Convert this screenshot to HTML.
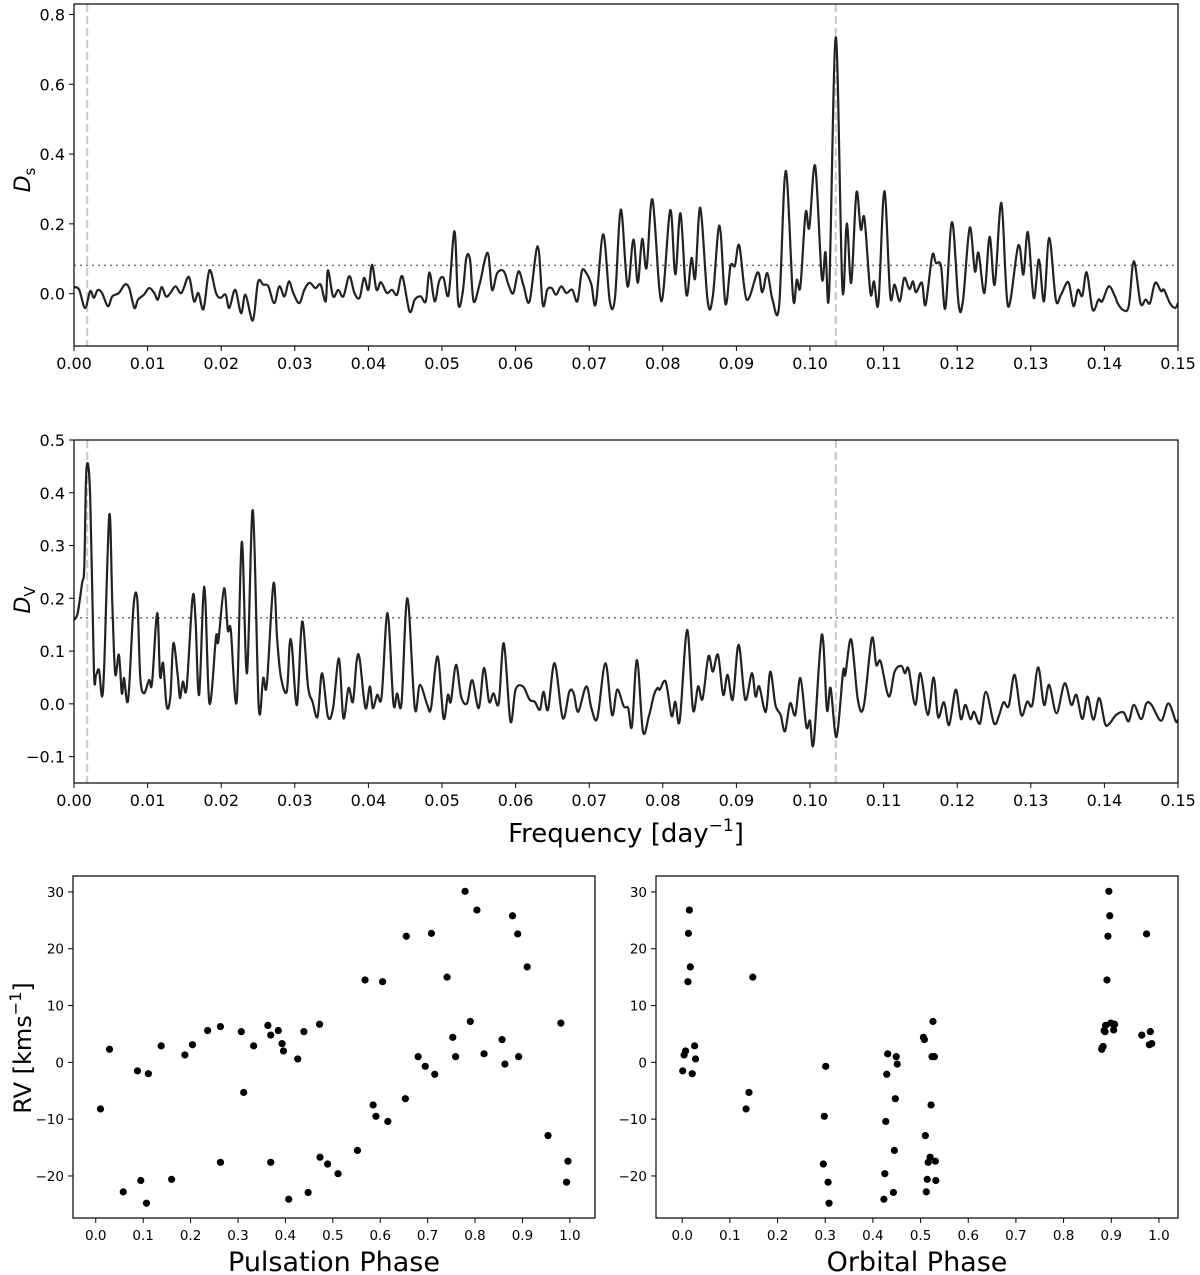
<!DOCTYPE html>
<html><head><meta charset="utf-8"><style>
html,body{margin:0;padding:0;background:#fff}
svg{display:block}
text{font-family:"DejaVu Sans","Liberation Sans",sans-serif;fill:#000}
</style></head><body>
<svg id="fig" width="1200" height="1275" viewBox="0 0 1200 1275" xmlns="http://www.w3.org/2000/svg"></svg>
<script>
// ---------- Data ----------
const dsFreq=[0,0.0007,0.0015,0.0022,0.0027,0.0032,0.0038,0.0046,0.0052,0.0061,0.0069,0.0075,0.0082,0.0087,0.0095,0.0102,0.0109,0.0114,0.0119,0.0125,0.0131,0.0138,0.0146,0.0156,0.0163,0.0169,0.0176,0.0184,0.0193,0.0199,0.0206,0.0211,0.0219,0.0227,0.0233,0.0243,0.0250,0.0257,0.0264,0.0272,0.0279,0.0286,0.0292,0.0298,0.0306,0.0313,0.0320,0.0328,0.0335,0.0342,0.0345,0.0352,0.0359,0.0366,0.0374,0.0381,0.0388,0.0394,0.0400,0.0405,0.0411,0.0417,0.0425,0.0432,0.0439,0.0446,0.0456,0.0463,0.0471,0.0478,0.0483,0.0490,0.0496,0.0502,0.0509,0.0517,0.0522,0.0528,0.0533,0.0538,0.0543,0.0551,0.0562,0.0568,0.0575,0.0584,0.0591,0.0597,0.0604,0.0611,0.0619,0.0630,0.0637,0.0643,0.0649,0.0655,0.0662,0.0669,0.0677,0.0684,0.0690,0.0696,0.0703,0.0709,0.0719,0.0728,0.0735,0.0743,0.0752,0.0760,0.0766,0.0772,0.0778,0.0786,0.0798,0.0810,0.0817,0.0824,0.0832,0.0839,0.0844,0.0851,0.0861,0.0868,0.0877,0.0885,0.0892,0.0898,0.0904,0.0914,0.0929,0.0935,0.0942,0.0949,0.0958,0.0967,0.0977,0.0982,0.0987,0.0994,0.0999,0.1007,0.1016,0.1021,0.1026,0.1035,0.1044,0.1050,0.1056,0.1063,0.1069,0.1074,0.1082,0.1087,0.1093,0.1101,0.1109,0.1115,0.1122,0.1128,0.1135,0.1140,0.1144,0.1152,0.1157,0.1166,0.1171,0.1178,0.1184,0.1193,0.1202,0.1208,0.1217,0.1224,0.1229,0.1237,0.1244,0.1251,0.1260,0.1269,0.1283,0.1290,0.1296,0.1304,0.1311,0.1318,0.1325,0.1334,0.1341,0.1351,0.1358,0.1364,0.1370,0.1376,0.1384,0.1392,0.1397,0.1406,0.1414,0.1418,0.1425,0.1433,0.1440,0.1449,0.1456,0.1462,0.1469,0.1477,0.1481,0.1489,0.1496,0.1500];
const dsVal=[0.019,0.011,-0.041,0.007,-0.012,0.010,0.002,-0.036,-0.008,0.002,0.026,0.016,-0.041,-0.017,-0.003,0.016,0.002,-0.017,0.019,-0.008,0.002,0.021,0.002,0.048,-0.022,0.002,-0.044,0.067,0.002,-0.012,-0.003,-0.041,0.011,-0.056,-0.003,-0.077,0.033,0.026,0.021,-0.027,0.021,-0.008,0.035,0.002,-0.027,0.011,0.031,0.016,0.026,-0.022,0.067,-0.008,0.011,-0.008,0.050,0.002,-0.012,0.045,0.011,0.083,0.011,0.033,0.002,0.011,-0.003,0.050,-0.051,-0.017,-0.008,-0.022,0.061,-0.022,0.035,0.045,-0.003,0.179,-0.027,0.002,0.102,0.098,-0.022,0.026,0.117,0.011,0.059,0.064,0.021,0.002,0.064,0.021,-0.022,0.136,-0.032,0.011,0.016,-0.003,0.021,0.002,0.011,-0.022,0.064,0.059,0.026,-0.029,0.170,-0.022,-0.012,0.241,0.021,0.155,0.031,0.157,0.074,0.270,-0.022,0.239,0.055,0.230,-0.003,0.102,0.045,0.246,-0.022,-0.008,0.195,-0.029,0.079,0.080,0.138,-0.017,0.061,0.004,0.059,-0.017,-0.036,0.352,-0.012,0.040,0.021,0.232,0.189,0.366,0.045,0.119,0.002,0.735,0.016,0.201,0.031,0.289,0.184,0.215,0.002,0.035,-0.027,0.294,-0.006,0.026,-0.022,0.045,0.013,0.035,0.004,0.031,-0.032,0.109,0.088,0.079,-0.041,0.205,-0.032,-0.017,0.189,0.064,0.117,0.002,0.163,0.026,0.260,-0.036,0.138,0.055,0.176,-0.012,0.098,-0.022,0.160,-0.017,-0.003,0.033,-0.036,0.011,-0.006,0.061,-0.046,-0.017,-0.022,0.021,-0.006,-0.027,-0.046,-0.036,0.093,-0.027,-0.017,-0.027,0.031,0.007,0.011,-0.027,-0.041,-0.027];
const dvFreq=[0,0.0005,0.0011,0.0014,0.0017,0.0022,0.0027,0.0030,0.0034,0.0038,0.0041,0.0048,0.0052,0.0056,0.0061,0.0065,0.0068,0.0072,0.0075,0.0081,0.0086,0.0090,0.0095,0.0102,0.0106,0.0113,0.0117,0.0121,0.0126,0.0131,0.0135,0.0141,0.0144,0.0148,0.0153,0.0161,0.0165,0.0170,0.0177,0.0184,0.0193,0.0196,0.0204,0.0209,0.0213,0.0221,0.0228,0.0235,0.0243,0.0251,0.0257,0.0262,0.0271,0.0276,0.0281,0.0289,0.0293,0.0296,0.0303,0.0310,0.0318,0.0324,0.0331,0.0337,0.0345,0.0352,0.0360,0.0366,0.0373,0.0379,0.0384,0.0388,0.0396,0.0402,0.0406,0.0412,0.0418,0.0426,0.0434,0.0439,0.0445,0.0453,0.0463,0.0470,0.0480,0.0485,0.0494,0.0502,0.0508,0.0512,0.0519,0.0526,0.0534,0.0541,0.0550,0.0557,0.0564,0.0570,0.0577,0.0584,0.0593,0.0600,0.0610,0.0619,0.0626,0.0633,0.0638,0.0644,0.0653,0.0664,0.0673,0.0679,0.0685,0.0696,0.0703,0.0711,0.0722,0.0731,0.0738,0.0747,0.0753,0.0758,0.0765,0.0773,0.0781,0.0788,0.0793,0.0796,0.0804,0.0812,0.0817,0.0823,0.0833,0.0841,0.0848,0.0854,0.0862,0.0868,0.0875,0.0882,0.0888,0.0895,0.0903,0.0912,0.0921,0.0926,0.0931,0.0940,0.0946,0.0953,0.0960,0.0966,0.0973,0.0980,0.0987,0.0995,0.1000,0.1005,0.1016,0.1023,0.1028,0.1036,0.1045,0.1048,0.1056,0.1065,0.1073,0.1084,0.1090,0.1096,0.1107,0.1115,0.1124,0.1129,0.1134,0.1143,0.1150,0.1160,0.1168,0.1174,0.1182,0.1189,0.1198,0.1205,0.1211,0.1218,0.1223,0.1231,0.1239,0.1250,0.1257,0.1263,0.1270,0.1278,0.1287,0.1295,0.1302,0.1310,0.1318,0.1325,0.1335,0.1346,0.1355,0.1362,0.1370,0.1377,0.1385,0.1393,0.1401,0.1407,0.1416,0.1426,0.1433,0.1440,0.1450,0.1457,0.1464,0.1477,0.1487,0.1497,0.1500];
const dvVal=[0.159,0.172,0.229,0.260,0.446,0.393,0.064,0.055,0.064,0.014,0.071,0.358,0.191,0.057,0.093,0.020,0.049,0.004,0.033,0.187,0.197,0.052,0.020,0.045,0.039,0.172,0.052,0.077,-0.005,0.014,0.115,0.052,0.011,0.042,0.030,0.200,0.165,0.017,0.222,0.001,0.127,0.118,0.219,0.140,0.140,0.004,0.307,0.058,0.367,-0.005,0.049,0.036,0.228,0.124,0.052,0.023,0.112,0.109,-0.002,0.156,0.033,0.004,-0.024,0.058,-0.024,-0.008,0.086,-0.027,0.030,0.004,0.080,0.086,-0.008,0.033,-0.008,0.017,0.014,0.172,0.001,0.020,0.001,0.200,-0.008,0.036,-0.002,-0.008,0.090,-0.027,0.017,0.004,0.074,0.014,0.001,0.045,-0.008,0.068,0.004,0.020,0.001,0.115,-0.033,0.027,0.033,0.008,0.004,-0.011,0.023,-0.011,0.077,-0.027,0.023,0.020,-0.015,0.033,-0.008,-0.027,0.077,-0.021,0.027,-0.005,-0.008,-0.043,0.083,-0.052,-0.024,0.017,0.030,0.027,0.042,-0.023,0.004,-0.032,0.140,-0.011,0.033,0.009,0.090,0.061,0.093,0.017,0.055,0.008,0.112,0.008,0.058,0.014,0.033,-0.015,0.061,-0.002,-0.021,-0.052,0.001,-0.021,0.049,-0.043,-0.032,-0.074,0.131,-0.011,0.030,-0.063,0.061,0.055,0.122,0.008,-0.005,0.124,0.074,0.080,0.014,0.061,0.072,0.058,0.066,-0.002,0.058,-0.021,0.050,-0.025,0.003,-0.040,0.027,-0.029,-0.002,-0.029,-0.015,-0.037,0.023,-0.037,-0.021,0.003,-0.004,0.055,-0.021,0.004,-0.002,0.069,-0.002,0.036,-0.018,0.039,-0.002,0.017,-0.029,0.014,-0.030,0.011,-0.038,-0.037,-0.021,-0.016,-0.033,-0.002,-0.029,0.001,-0.002,-0.032,0.001,-0.033,-0.030];
const dsThreshold=0.081;
const dvThreshold=0.163;
const markFreqs=[0.0018,0.1035];
const freqTicks=[0,0.01,0.02,0.03,0.04,0.05,0.06,0.07,0.08,0.09,0.10,0.11,0.12,0.13,0.14,0.15];
const dsTicks=[0,0.2,0.4,0.6,0.8];
const dvTicks=[-0.1,0,0.1,0.2,0.3,0.4,0.5];
const pulsPhase=[0.010,0.029,0.058,0.088,0.095,0.107,0.111,0.138,0.160,0.188,0.204,0.236,0.263,0.263,0.307,0.312,0.333,0.363,0.369,0.369,0.385,0.393,0.396,0.407,0.426,0.439,0.448,0.472,0.473,0.489,0.511,0.552,0.568,0.585,0.591,0.605,0.616,0.653,0.655,0.680,0.695,0.708,0.715,0.741,0.753,0.759,0.779,0.790,0.804,0.819,0.857,0.863,0.879,0.890,0.892,0.910,0.954,0.981,0.993,0.996];
const pulsRV=[-8.2,2.3,-22.8,-1.5,-20.8,-24.8,-2.0,2.9,-20.6,1.3,3.1,5.6,6.3,-17.6,5.4,-5.3,2.9,6.5,4.8,-17.6,5.6,3.3,2.0,-24.1,0.6,5.4,-22.9,6.7,-16.7,-17.9,-19.6,-15.5,14.5,-7.5,-9.5,14.2,-10.4,-6.4,22.2,1.0,-0.7,22.7,-2.1,15.0,4.4,1.0,30.1,7.2,26.8,1.5,4.0,-0.3,25.8,22.6,1.0,16.8,-12.9,6.9,-21.1,-17.4];
const orbPhase=[0.001,0.004,0.007,0.012,0.013,0.015,0.017,0.021,0.026,0.028,0.134,0.140,0.148,0.296,0.298,0.301,0.306,0.308,0.423,0.425,0.427,0.429,0.431,0.443,0.445,0.447,0.449,0.451,0.506,0.508,0.510,0.512,0.514,0.516,0.520,0.522,0.524,0.526,0.529,0.531,0.532,0.880,0.883,0.885,0.888,0.891,0.893,0.895,0.897,0.899,0.905,0.907,0.964,0.974,0.980,0.982,0.985,0.887,0.902,0.881];
const orbRV=[-1.5,1.3,2.0,14.2,22.7,26.8,16.8,-2.0,2.9,0.6,-8.2,-5.3,15.0,-17.9,-9.5,-0.7,-21.1,-24.8,-24.1,-19.6,-10.4,-2.1,1.5,-22.9,-15.5,-6.4,1.0,-0.3,4.4,4.0,-12.9,-22.8,-20.6,-17.6,-16.7,-7.5,1.0,7.2,1.0,-17.4,-20.8,2.3,2.8,5.6,6.5,14.5,22.2,30.1,25.8,6.9,5.7,6.7,4.8,22.6,3.1,5.4,3.3,5.4,6.8,2.6];
const phaseTicks=[0,0.1,0.2,0.3,0.4,0.5,0.6,0.7,0.8,0.9,1.0];
const rvTicks=[-20,-10,0,10,20,30];

// ---------- Drawing ----------
const NS='http://www.w3.org/2000/svg';
const svg=document.getElementById('fig');
function mk(tag,attrs,parent){const e=document.createElementNS(NS,tag);for(const k in attrs)e.setAttribute(k,attrs[k]);(parent||svg).appendChild(e);return e;}
function scale(d0,d1,r0,r1){return v=>r0+(v-d0)*(r1-r0)/(d1-d0);}
function fmt(v,d){let s=v.toFixed(d);if(v<0)s='\u2212'+s.slice(1);return s;}
function smoothPath(P){
  let d='M'+P[0][0].toFixed(1)+','+P[0][1].toFixed(1);
  for(let i=0;i<P.length-1;i++){
    const p0=P[i-1]||P[i],p1=P[i],p2=P[i+1],p3=P[i+2]||P[i+1];
    const c1x=p1[0]+(p2[0]-p0[0])/6,c1y=p1[1]+(p2[1]-p0[1])/6;
    const c2x=p2[0]-(p3[0]-p1[0])/6,c2y=p2[1]-(p3[1]-p1[1])/6;
    d+=' C'+c1x.toFixed(1)+','+c1y.toFixed(1)+' '+c2x.toFixed(1)+','+c2y.toFixed(1)+' '+p2[0].toFixed(1)+','+p2[1].toFixed(1);
  }
  return d;
}

function periodogram(name,box,ylim,freqs,vals,thr,yticks,ydec,fontSize){
  const g=mk('g',{});
  
  
  const xs=scale(0,0.15,box.x0,box.x1), ys=scale(ylim[0],ylim[1],box.y1,box.y0);
  const cp=mk('clipPath',{id:name+'-clip'},g);
  mk('rect',{x:box.x0,y:box.y0,width:box.x1-box.x0,height:box.y1-box.y0},cp);
  markFreqs.forEach(f=>{
    const l=mk('line',{x1:xs(f),x2:xs(f),y1:box.y0,y2:box.y1,stroke:'#c8c8c8','stroke-width':2,'stroke-dasharray':'8,4'},g);
    
    
  });
  const th=mk('line',{x1:box.x0,x2:box.x1,y1:ys(thr),y2:ys(thr),stroke:'#777','stroke-width':1.6,'stroke-dasharray':'2,4'},g);
  
  
  const P=freqs.map((f,i)=>[xs(f),ys(vals[i])]);
  const pl=mk('path',{d:smoothPath(P),fill:'none',stroke:'#222','stroke-width':2.2,'stroke-linejoin':'round','clip-path':'url(#'+name+'-clip)'},g);
  
  
  const fr=mk('rect',{x:box.x0,y:box.y0,width:box.x1-box.x0,height:box.y1-box.y0,fill:'none',stroke:'#000','stroke-width':1.2},g);
  
  
  freqTicks.forEach(t=>{
    const x=xs(t);
    mk('line',{x1:x,x2:x,y1:box.y1,y2:box.y1+5,stroke:'#000','stroke-width':1},g);
    const tx=mk('text',{x:x,y:box.y1+23,'text-anchor':'middle','font-size':fontSize},g);
    tx.textContent=t.toFixed(2);
    
    
  });
  yticks.forEach(t=>{
    const y=ys(t);
    mk('line',{x1:box.x0-5,x2:box.x0,y1:y,y2:y,stroke:'#000','stroke-width':1},g);
    const tx=mk('text',{x:box.x0-9,y:y+6,'text-anchor':'end','font-size':fontSize},g);
    tx.textContent=fmt(t,ydec);
    
    
  });
  return g;
}

periodogram('ds-periodogram',{x0:74,x1:1178,y0:4,y1:346},[-0.15,0.83],dsFreq,dsVal,dsThreshold,dsTicks,1,16);
periodogram('dv-periodogram',{x0:74,x1:1178,y0:440,y1:783},[-0.15,0.5],dvFreq,dvVal,dvThreshold,dvTicks,1,16);

function scatter(name,box,xlim,px,py){
  const g=mk('g',{});
  
  
  const xs=scale(xlim[0],xlim[1],box.x0,box.x1), ys=scale(-27.4,32.8,box.y1,box.y0);
  px.forEach((p,i)=>{
    const c=mk('circle',{cx:xs(p),cy:ys(py[i]),r:3.6,fill:'#000'},g);
    
    
  });
  const fr=mk('rect',{x:box.x0,y:box.y0,width:box.x1-box.x0,height:box.y1-box.y0,fill:'none',stroke:'#000','stroke-width':1.2},g);
  
  
  phaseTicks.forEach(t=>{
    const x=xs(t);
    mk('line',{x1:x,x2:x,y1:box.y1,y2:box.y1+5,stroke:'#000','stroke-width':1},g);
    const tx=mk('text',{x:x,y:box.y1+22,'text-anchor':'middle','font-size':13.5},g);
    tx.textContent=t.toFixed(1);
    
    
  });
  rvTicks.forEach(t=>{
    const y=ys(t);
    mk('line',{x1:box.x0-5,x2:box.x0,y1:y,y2:y,stroke:'#000','stroke-width':1},g);
    const tx=mk('text',{x:box.x0-9,y:y+5,'text-anchor':'end','font-size':13.5},g);
    tx.textContent=t<0?'\u2212'+Math.abs(t):String(t);
    
    
  });
}
scatter('pulsation-phase-plot',{x0:73,x1:595,y0:876,y1:1218},[-0.048,1.053],pulsPhase,pulsRV);
scatter('orbital-phase-plot',{x0:656,x1:1178,y0:876,y1:1218},[-0.055,1.04],orbPhase,orbRV);
</script>
<div style="position:absolute;left:0;top:0;width:1200px;height:1275px;pointer-events:none">
<svg width="1200" height="1275" xmlns="http://www.w3.org/2000/svg">
<text transform="translate(30,180) rotate(-90)" text-anchor="middle" font-size="22" font-style="italic">D<tspan font-size="15" font-style="normal" dy="5">s</tspan></text>
<text transform="translate(30,600) rotate(-90)" text-anchor="middle" font-size="22" font-style="italic">D<tspan font-size="15" font-style="normal" dy="5">V</tspan></text>
<text x="626" y="842" text-anchor="middle" font-size="26">Frequency [day<tspan font-size="17" dy="-11">−1</tspan><tspan dy="11">]</tspan></text>
<text transform="translate(31,1048) rotate(-90)" text-anchor="middle" font-size="24">RV [kms<tspan font-size="16" dy="-10">−1</tspan><tspan dy="10">]</tspan></text>
<text x="334" y="1271" text-anchor="middle" font-size="27">Pulsation Phase</text>
<text x="917" y="1271" text-anchor="middle" font-size="27">Orbital Phase</text>
</svg></div>
</body></html>
